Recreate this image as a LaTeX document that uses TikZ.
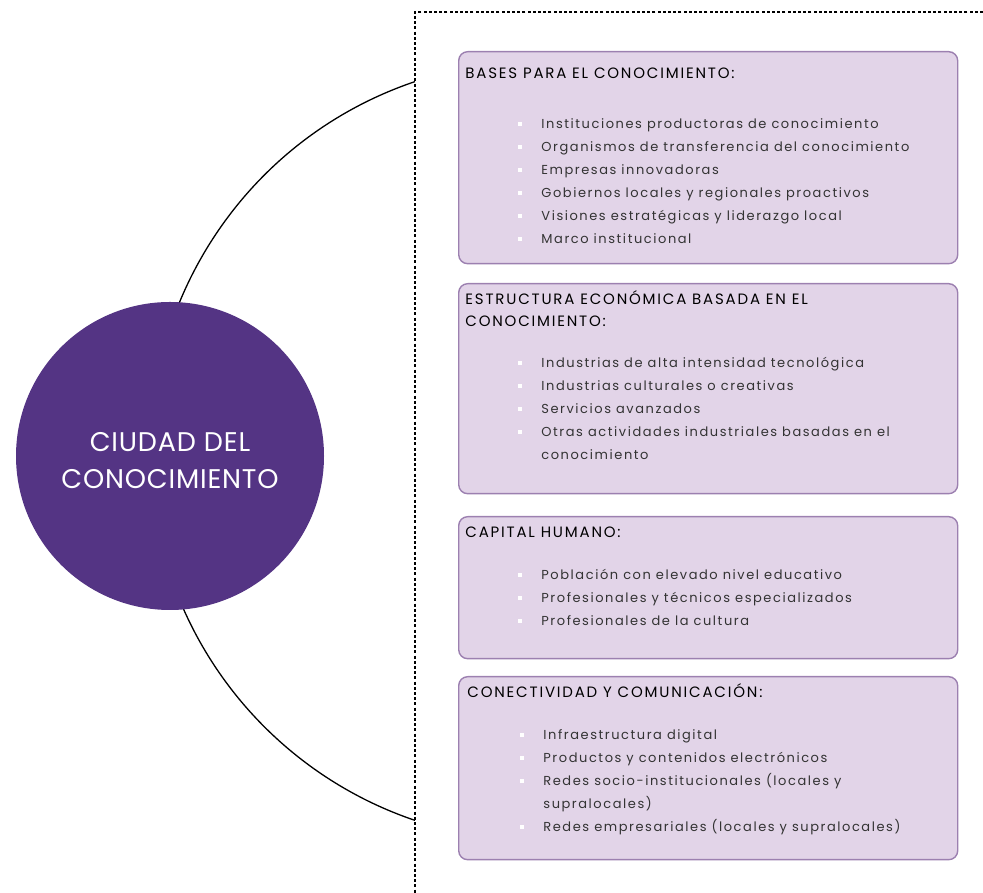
\documentclass[tikz,border=0pt]{standalone}
\usepackage{fontspec}
\setmainfont{Poppins}
\newfontfamily\bodyfont[LetterSpace=12]{Poppins}
\newfontfamily\titlefont[LetterSpace=12]{Poppins}
\newfontfamily\ciudadfont[LetterSpace=3]{Poppins}
\usetikzlibrary{positioning}
\definecolor{ciudadpurple}{HTML}{543484}
\definecolor{boxfill}{HTML}{E2D4E8}
\definecolor{boxline}{HTML}{9C80B0}
\newcommand{\bul}{\textcolor{white}{\rule[0.22em]{4pt}{4pt}}\hspace{19pt}}
\newcommand{\bulgap}{\hspace*{23pt}}

\begin{document}
\begin{tikzpicture}[
        x=1pt, y=1pt,
        thick,
        font=\bodyfont\fontsize{13}{23}\selectfont
    ]
    \tikzset{
        ideabox/.style = {rectangle, rounded corners=9pt, draw=boxline, line width=1.4pt, fill=boxfill, anchor=north west, minimum width=499pt, inner sep=0pt},
        boxtitle/.style = {anchor=base west, inner sep=0pt, align=left, text=black, font=\titlefont\fontsize{15}{22}\selectfont},
        bullist/.style = {anchor=base west, inner sep=0pt, align=left, text=black!80},
        ciudad/.style = {circle, fill=ciudadpurple, minimum size=308pt, inner sep=0pt},
        ciudadtext/.style = {text=white, align=center, inner sep=0pt, font=\ciudadfont\fontsize{27}{37}\selectfont},
        frameline/.style = {line width=1.2pt, dash pattern=on 3pt off 2.2pt},
    }
    \useasboundingbox (0,0) rectangle (983,893);
    \coordinate (frameTop) at (415,881);
    \coordinate (frameRight) at (983,881);
    \coordinate (frameBottom) at (415,0);
    \draw[frameline] (frameRight) -- (frameTop) -- (frameBottom);
    \coordinate (arcTop) at (415,811.4);
    \draw[line width=1.3pt] (arcTop) arc[start angle=108.7, end angle=251.3, radius=390];
    \node[ciudad] (ciudad) at (170,437) {};
    \node[ciudadtext] (ciudadT) at ([yshift=-4.5]ciudad.center) {CIUDAD DEL\\CONOCIMIENTO};

    \node[ideabox, minimum height=212pt] (bases) at (458,842) {};
    \node[boxtitle] (basesT) at ([shift={(7,-28)}]bases.north west) {BASES PARA EL CONOCIMIENTO:};
    \node[bullist] (basesL) at ([shift={(60,-193)}]bases.north west) {
        \bul Instituciones productoras de conocimiento\\
        \bul Organismos de transferencia del conocimiento\\
        \bul Empresas innovadoras\\
        \bul Gobiernos locales y regionales proactivos\\
        \bul Visiones estratégicas y liderazgo local\\
        \bul Marco institucional};

    \node[ideabox, minimum height=210pt] (estructura) at (458,610) {};
    \node[boxtitle] (estructuraT) at ([shift={(7,-44)}]estructura.north west) {ESTRUCTURA ECONÓMICA BASADA EN EL\\CONOCIMIENTO:};
    \node[bullist] (estructuraL) at ([shift={(60,-177)}]estructura.north west) {
        \bul Industrias de alta intensidad tecnológica\\
        \bul Industrias culturales o creativas\\
        \bul Servicios avanzados\\
        \bul Otras actividades industriales basadas en el\\
        \bulgap conocimiento};

    \node[ideabox, minimum height=142pt] (capital) at (458,377) {};
    \node[boxtitle] (capitalT) at ([shift={(7,-22)}]capital.north west) {CAPITAL HUMANO:};
    \node[bullist] (capitalL) at ([shift={(60,-110)}]capital.north west) {
        \bul Población con elevado nivel educativo\\
        \bul Profesionales y técnicos especializados\\
        \bul Profesionales de la cultura};

    \node[ideabox, minimum height=183pt] (conectividad) at (458,217) {};
    \node[boxtitle] (conectividadT) at ([shift={(9,-22)}]conectividad.north west) {CONECTIVIDAD Y COMUNICACIÓN:};
    \node[bullist] (conectividadL) at ([shift={(62,-156)}]conectividad.north west) {
        \bul Infraestructura digital\\
        \bul Productos y contenidos electrónicos\\
        \bul Redes socio-institucionales (locales y\\
        \bulgap supralocales)\\
        \bul Redes empresariales (locales y supralocales)};
\end{tikzpicture}
\end{document}
